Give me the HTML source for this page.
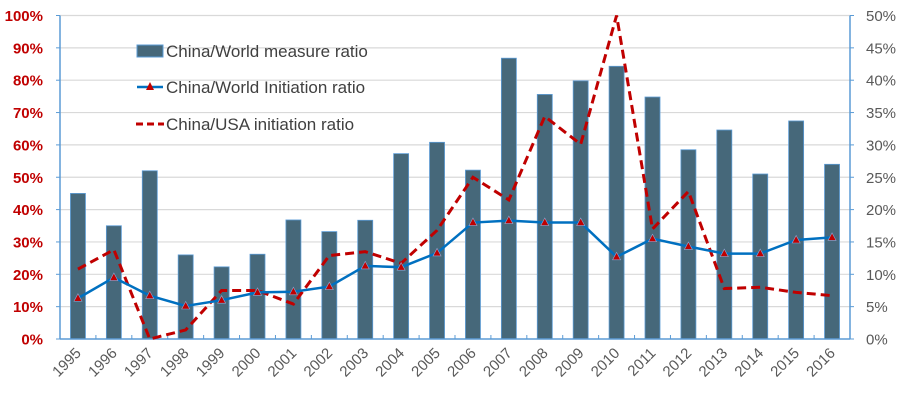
<!DOCTYPE html>
<html><head><meta charset="utf-8"><style>
body{margin:0;background:#fff;}
svg text{font-family:"Liberation Sans",sans-serif;}
</style></head><body>
<svg id="chart" width="900" height="406" viewBox="0 0 900 406" xmlns="http://www.w3.org/2000/svg">
<g id="grid"></g>
<g id="bars"></g>
<g id="axes"></g>
<g id="lines"></g>
<g id="labels"></g>
<g>
  <rect x="137" y="45" width="26" height="12" fill="#46687a" stroke="#5b9bd5" stroke-width="1"/>
  <text x="166" y="57" font-size="17" fill="#404040">China/World measure ratio</text>
  <line x1="137" y1="87" x2="163" y2="87" stroke="#0070c0" stroke-width="2.5"/>
  <path d="M150,82 L154,90 L146,90 Z" fill="#c00000"/>
  <text x="166" y="93" font-size="17" fill="#404040">China/World Initiation ratio</text>
  <line x1="136" y1="124" x2="164" y2="124" stroke="#c00000" stroke-width="3" stroke-dasharray="7,4"/>
  <text x="166" y="130" font-size="17" fill="#404040">China/USA initiation ratio</text>
</g>
</svg>
<script>
const years = ["1995","1996","1997","1998","1999","2000","2001","2002","2003","2004","2005","2006","2007","2008","2009","2010","2011","2012","2013","2014","2015","2016"];
const measureRatio = [45,35,52,26,22.3,26.2,36.8,33.2,36.7,57.3,60.8,52.2,86.8,75.6,79.8,84.3,74.8,58.5,64.6,51,67.4,54];
const worldInitiation = [6.3,9.5,6.7,5.1,6.0,7.2,7.3,8.1,11.3,11.1,13.3,18.0,18.3,18.0,18.0,12.7,15.5,14.3,13.2,13.2,15.3,15.7];
const usaInitiation = [10.8,13.8,0,1.4,7.5,7.5,5.4,12.9,13.5,11.7,16.8,25,21.5,34.4,30.1,50,17,22.8,7.8,8,7.2,6.7];
const leftTicks = [0,10,20,30,40,50,60,70,80,90,100];
const rightTicks = [0,5,10,15,20,25,30,35,40,45,50];

const NS="http://www.w3.org/2000/svg";
const L=60,R=850,T=15.5,B=339;
const bw=(R-L)/years.length;
const xc=i=>L+bw*(i+0.5);
const yL=v=>B-(v/100)*(B-T);
const yR=v=>B-(v/50)*(B-T);
function mk(tag,attrs,parent){const e=document.createElementNS(NS,tag);for(const k in attrs)e.setAttribute(k,attrs[k]);parent.appendChild(e);return e;}
const grid=document.getElementById('grid'),bars=document.getElementById('bars'),axes=document.getElementById('axes'),lines=document.getElementById('lines'),labels=document.getElementById('labels');

leftTicks.forEach((t,i)=>{
  const y=yL(t);
  if(t>0){const g=mk('line',{x1:L,x2:R,y1:y,y2:y,stroke:'#d9d9d9','stroke-width':1.2},grid);
  
  }
  const tx=mk('text',{x:43,y:y+5.5,'text-anchor':'end','font-size':15,'font-weight':'bold',fill:'#c00000'},labels);
  tx.textContent=t+'%';
  
  
  const tk=mk('line',{x1:L-4,x2:L,y1:y,y2:y,stroke:'#5b9bd5','stroke-width':1},axes);
  
  
});
rightTicks.forEach(t=>{
  const y=yR(t);
  const tx=mk('text',{x:866,y:y+5.5,'font-size':15,fill:'#595959'},labels);
  tx.textContent=t+'%';
  
  
  const tk=mk('line',{x1:R,x2:R+4,y1:y,y2:y,stroke:'#5b9bd5','stroke-width':1},axes);
  
  
});

measureRatio.forEach((v,i)=>{
  const r=mk('rect',{x:xc(i)-7.5,y:yL(v),width:15,height:B-yL(v),fill:'#46687a',stroke:'#5b9bd5','stroke-width':0.8},bars);
  
  
});

let a=mk('line',{x1:L,x2:L,y1:T,y2:B,stroke:'#5b9bd5','stroke-width':1.5},axes);


a=mk('line',{x1:R,x2:R,y1:T,y2:B,stroke:'#5b9bd5','stroke-width':1.5},axes);


a=mk('line',{x1:L,x2:R,y1:B,y2:B,stroke:'#5b9bd5','stroke-width':1.5},axes);


for(let i=0;i<=years.length;i++){
  const tk=mk('line',{x1:L+bw*i,x2:L+bw*i,y1:B,y2:B-4,stroke:'#5b9bd5','stroke-width':1},axes);
  
  
}

years.forEach((yv,i)=>{
  const x=xc(i)+4,y=354;
  const tx=mk('text',{x:x,y:y,'text-anchor':'end','font-size':15,fill:'#595959',transform:`rotate(-45 ${x} ${y})`},labels);
  tx.textContent=yv;
  
  
});

const usaPts=usaInitiation.map((v,i)=>xc(i)+','+yR(v)).join(' ');
const usa=mk('polyline',{points:usaPts,fill:'none',stroke:'#c00000','stroke-width':3,'stroke-dasharray':'9,5'},lines);



const wPts=worldInitiation.map((v,i)=>xc(i)+','+yR(v)).join(' ');
const w=mk('polyline',{points:wPts,fill:'none',stroke:'#0070c0','stroke-width':2.5},lines);


worldInitiation.forEach((v,i)=>{
  const x=xc(i),y=yR(v);
  const m=mk('path',{d:`M${x},${y-4.5} L${x+4},${y+3} L${x-4},${y+3} Z`,fill:'#c00000',stroke:'#8fa9d8','stroke-width':0.6},lines);
  
  
});
</script>
</body></html>
